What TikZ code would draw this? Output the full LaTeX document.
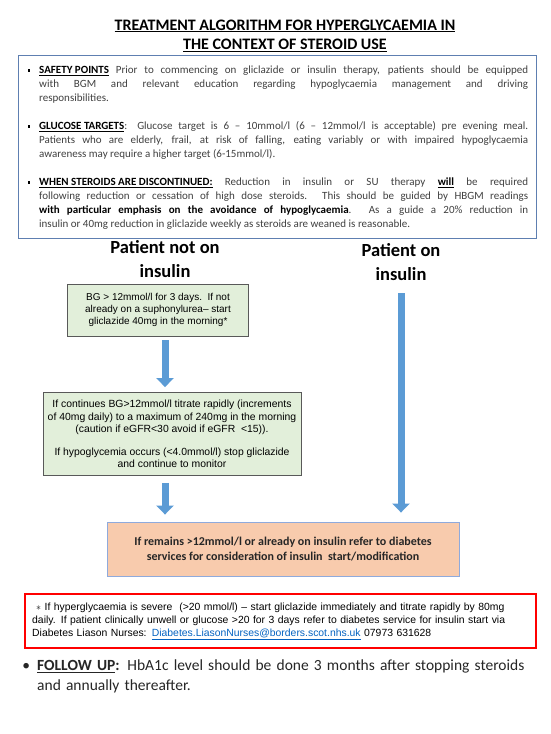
\documentclass[tikz,border=0pt]{standalone}
\usepackage{fontspec}
\setmainfont{Carlito}
\newfontfamily\arialf{Liberation Sans}
\usetikzlibrary{arrows.meta}
\definecolor{arrowblue}{HTML}{5B9BD5}
\definecolor{greenfill}{HTML}{E2EFDA}
\definecolor{greenline}{HTML}{595959}
\definecolor{orangefill}{HTML}{F8CBAD}
\definecolor{orangeline}{HTML}{8FAADC}
\definecolor{boxline}{HTML}{5E7FB1}
\definecolor{bodygray}{HTML}{404040}
\definecolor{linkblue}{HTML}{0563C1}
\definecolor{alertred}{HTML}{FF0000}
\newcommand{\hd}[1]{\textcolor{black}{\bfseries\underline{#1}}}
\newcommand{\sqbullet}{\leavevmode\llap{\textcolor{black}{\rule[2.2pt]{2.6pt}{2.6pt}}\hspace{9pt}}}
\begin{document}
\begin{tikzpicture}[x=1pt,y=-1pt,
  bluearrow/.style={draw=arrowblue, line width=7pt, -{Triangle[width=17pt,length=9pt]}},
  greenbox/.style={draw=greenline, line width=0.8pt, fill=greenfill, inner sep=0pt, align=center,
    font=\arialf\fontsize{10}{12.2}\selectfont},
  heading/.style={align=center, font=\fontsize{18.5}{24}\selectfont\bfseries}]
\useasboundingbox (0,0) rectangle (550,734);
\fill[white] (0,0) rectangle (550,734);

% title
\node[align=center, font=\fontsize{16}{19}\selectfont\bfseries] (title) at (285,35.5)
  {\underline{TREATMENT ALGORITHM FOR HYPERGLYCAEMIA IN}\\\underline{THE CONTEXT OF STEROID USE}};

% top information box
\node[draw=boxline, line width=1.2pt, minimum width=518pt, minimum height=183pt,
  anchor=north west, inner sep=0pt] (topbox) at (18,55) {};
\node[anchor=north west, text width=489pt, align=justify, inner sep=0pt, text=bodygray,
  font=\fontsize{11}{14}\selectfont] (toptext) at (39,66)
  {\parindent=0pt
   \sqbullet\hd{SAFETY POINTS} Prior to commencing on gliclazide or insulin therapy, patients should be equipped \linebreak
   with BGM and relevant education regarding hypoglycaemia management and driving \linebreak
   responsibilities.\par\vspace{14pt}
   \sqbullet\hd{GLUCOSE TARGETS}: Glucose target is 6 – 10mmol/l (6 – 12mmol/l is acceptable) pre evening meal. \linebreak
   Patients who are elderly, frail, at risk of falling, eating variably or with impaired hypoglycaemia \linebreak
   awareness may require a higher target (6-15mmol/l).\par\vspace{14pt}
   \sqbullet\hd{WHEN STEROIDS ARE DISCONTINUED:} Reduction in insulin or SU therapy \hd{will} be required \linebreak
   following reduction or cessation of high dose steroids. This should be guided by HBGM readings \linebreak
   \textcolor{black}{\bfseries with particular emphasis on the avoidance of hypoglycaemia}. As a guide a 20\% reduction in \linebreak
   insulin or 40mg reduction in gliclazide weekly as steroids are weaned is reasonable.\par};

% column headings
\node[heading] (lhead) at (165,259) {Patient not on\\insulin};
\node[heading] (rhead) at (401,262) {Patient on\\insulin};

% left column boxes
\node[greenbox, minimum width=181pt, minimum height=52pt] (g1) at (158,310)
  {BG > 12mmol/l for 3 days.\ \ If not\\already on a suphonylurea– start\\gliclazide 40mg in the morning*};
\node[greenbox, minimum width=258pt, minimum height=83pt, font=\arialf\fontsize{10.4}{12.5}\selectfont] (g2) at (172,434)
  {If continues BG>12mmol/l titrate rapidly (increments\\of 40mg daily) to a maximum of 240mg in the morning\\(caution if eGFR<30 avoid if eGFR\ \ <15)).\\[10pt]If hypoglycemia occurs (<4.0mmol/l) stop gliclazide\\and continue to monitor};

% orange box
\node[draw=orangeline, line width=0.9pt, fill=orangefill, minimum width=352pt, minimum height=54pt,
  inner sep=0pt, align=center, text=black!85, font=\fontsize{12}{14.5}\selectfont\bfseries] (orange) at (283,549)
  {If remains >12mmol/l or already on insulin refer to diabetes\\services for consideration of insulin\ \ start/modification};

% arrows
\coordinate (lx) at (165,0);
\coordinate (rstart) at (401,293);
\draw[bluearrow, shorten <=4pt, shorten >=5pt] (lx |- g1.south) -- (lx |- g2.north);
\draw[bluearrow, shorten <=7pt, shorten >=7pt] (lx |- g2.south) -- (lx |- orange.north);
\draw[bluearrow, shorten >=9pt] (rstart) -- (rstart |- orange.north);

% red note box
\node[draw=alertred, line width=1.8pt, minimum width=511pt, minimum height=54pt, inner sep=0pt,
  anchor=north west] (redbox) at (24,593) {};
\node[anchor=west, text width=505pt, align=left, inner sep=0pt,
  font=\arialf\fontsize{10.4}{13}\selectfont] (redtext) at (32,621)
  {\hspace*{4pt}$\ast$\ If hyperglycaemia is severe\ \ (>20 mmol/l) – start gliclazide immediately and titrate rapidly by 80mg\\
   daily. If patient clinically unwell or glucose >20 for 3 days refer to diabetes service for insulin start via\\
   Diabetes Liason Nurses: \textcolor{linkblue}{\underline{Diabetes.LiasonNurses@borders.scot.nhs.uk}} 07973 631628};

% follow up
\node[anchor=north west, text width=510pt, align=left, inner sep=0pt, text=black!85,
  font=\fontsize{15.5}{20}\selectfont] (follow) at (37,660)
  {\llap{•\hspace{7pt}}\textbf{\underline{FOLLOW UP}:} HbA1c level should be done 3 months after stopping steroids\\
   and annually thereafter.};
\end{tikzpicture}
\end{document}
